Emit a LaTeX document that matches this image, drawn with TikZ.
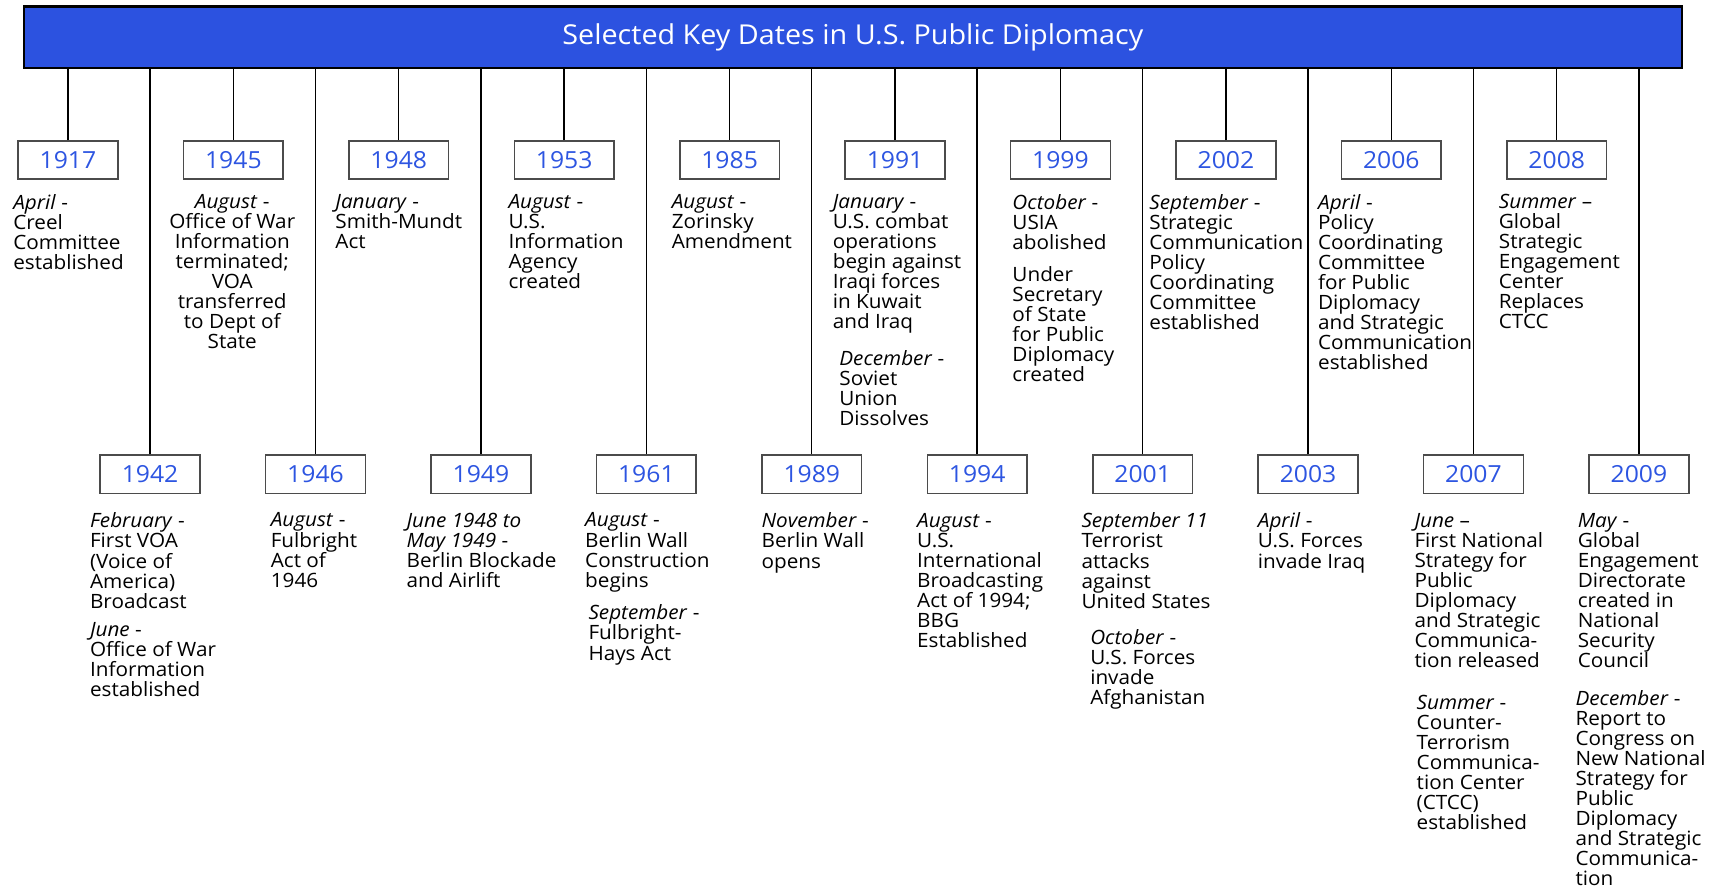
\documentclass[tikz,border=0pt]{standalone}
\usepackage{fontspec}
\setmainfont{Open Sans}[FakeStretch=1.05]
\usetikzlibrary{positioning}

\definecolor{bannerblue}{RGB}{44,82,224}
\definecolor{yearblue}{RGB}{45,85,225}
\definecolor{boxgray}{RGB}{75,75,75}

\newcommand{\mon}[1]{\textit{#1}}
\setlength{\lineskiplimit}{-20pt}

\begin{document}
\begin{tikzpicture}[x=1pt,y=1pt,node distance=151pt,on grid,
	banner/.style={draw=black,line width=2pt,fill=bannerblue,text=white,minimum width=1513pt,minimum height=56pt,font=\fontsize{25}{28}\selectfont},
	yearbox/.style={draw=boxgray,line width=1.4pt,minimum width=91pt,minimum height=35pt,inner sep=0pt,text=yearblue,font=\fontsize{21.5}{24}\selectfont},
	note/.style={anchor=north west,align=left,inner sep=0pt,font=\fontsize{18}{18.3}\selectfont},
	stem/.style={draw=black,line width=1.3pt}]
	\useasboundingbox (0,0) rectangle (1560,-810);

	\node[banner] (banner) at (778.5,-34) {Selected Key Dates in U.S. Public Diplomacy};

	% top row
	\node[yearbox] (y1917) at (62,-146) {1917};
	\node[yearbox] (y1945) [right=of y1917] {1945};
	\node[yearbox] (y1948) [right=of y1945] {1948};
	\node[yearbox] (y1953) [right=of y1948] {1953};
	\node[yearbox] (y1985) [right=of y1953] {1985};
	\node[yearbox] (y1991) [right=of y1985] {1991};
	\node[yearbox] (y1999) [right=of y1991] {1999};
	\node[yearbox] (y2002) [right=of y1999] {2002};
	\node[yearbox] (y2006) [right=of y2002] {2006};
	\node[yearbox] (y2008) [right=of y2006] {2008};

	% bottom row
	\node[yearbox] (y1942) at (137,-433) {1942};
	\node[yearbox] (y1946) [right=of y1942] {1946};
	\node[yearbox] (y1949) [right=of y1946] {1949};
	\node[yearbox] (y1961) [right=of y1949] {1961};
	\node[yearbox] (y1989) [right=of y1961] {1989};
	\node[yearbox] (y1994) [right=of y1989] {1994};
	\node[yearbox] (y2001) [right=of y1994] {2001};
	\node[yearbox] (y2003) [right=of y2001] {2003};
	\node[yearbox] (y2007) [right=of y2003] {2007};
	\node[yearbox] (y2009) [right=of y2007] {2009};

	\path[stem]
	(y1917) edge (y1917 |- banner.south)
	(y1942) edge (y1942 |- banner.south)
	(y1945) edge (y1945 |- banner.south)
	(y1946) edge (y1946 |- banner.south)
	(y1948) edge (y1948 |- banner.south)
	(y1949) edge (y1949 |- banner.south)
	(y1953) edge (y1953 |- banner.south)
	(y1961) edge (y1961 |- banner.south)
	(y1985) edge (y1985 |- banner.south)
	(y1989) edge (y1989 |- banner.south)
	(y1991) edge (y1991 |- banner.south)
	(y1994) edge (y1994 |- banner.south)
	(y1999) edge (y1999 |- banner.south)
	(y2001) edge (y2001 |- banner.south)
	(y2002) edge (y2002 |- banner.south)
	(y2003) edge (y2003 |- banner.south)
	(y2006) edge (y2006 |- banner.south)
	(y2007) edge (y2007 |- banner.south)
	(y2008) edge (y2008 |- banner.south)
	(y2009) edge (y2009 |- banner.south);

	% top row texts
	\node[note] (t1917) at (12,-177) {\mon{April} -\\Creel\\Committee\\established};
	\node[note,anchor=north,align=center] (t1945) at (212,-177) {\mon{August} -\\Office of War\\Information\\terminated;\\VOA\\transferred\\to Dept of\\State};
	\node[note] (t1948) at (306,-177) {\mon{January} -\\Smith-Mundt\\Act};
	\node[note] (t1953) at (464,-177) {\mon{August} -\\U.S.\\Information\\Agency\\created};
	\node[note] (t1985) at (613,-177) {\mon{August} -\\Zorinsky\\Amendment};
	\node[note] (t1991) at (760,-177) {\mon{January} -\\U.S. combat\\operations\\begin against\\Iraqi forces\\in Kuwait\\and Iraq};
	\node[note] (t1991b) at (766,-320) {\mon{December} -\\Soviet\\Union\\Dissolves};
	\node[note] (t1999) at (924,-177) {\mon{October} -\\USIA\\abolished};
	\node[note] (t1999b) at (924,-243) {Under\\Secretary\\of State\\for Public\\Diplomacy\\created};
	\node[note] (t2002) at (1049,-177) {\mon{September} -\\Strategic\\Communication\\Policy\\Coordinating\\Committee\\established};
	\node[note] (t2006) at (1203,-177) {\mon{April} -\\Policy\\Coordinating\\Committee\\for Public\\Diplomacy\\and Strategic\\Communication\\established};
	\node[note] (t2008) at (1368,-177) {\mon{Summer} --\\Global\\Strategic\\Engagement\\Center\\Replaces\\CTCC};

	% bottom row texts
	\node[note] (t1942) at (82,-468) {\mon{February} -\\First VOA\\(Voice of\\America)\\Broadcast};
	\node[note] (t1942b) at (82,-568) {\mon{June} -\\Office of War\\Information\\established};
	\node[note] (t1946) at (247,-468) {\mon{August} -\\Fulbright\\Act of\\1946};
	\node[note] (t1949) at (371,-468) {\mon{June 1948 to}\\\mon{May 1949} -\\Berlin Blockade\\and Airlift};
	\node[note] (t1961) at (534,-468) {\mon{August} -\\Berlin Wall\\Construction\\begins};
	\node[note] (t1961b) at (537,-552) {\mon{September} -\\Fulbright-\\Hays Act};
	\node[note] (t1989) at (695,-468) {\mon{November} -\\Berlin Wall\\opens};
	\node[note] (t1994) at (837,-468) {\mon{August} -\\U.S.\\International\\Broadcasting\\Act of 1994;\\BBG\\Established};
	\node[note] (t2001) at (987,-468) {\mon{September 11}\\Terrorist\\attacks\\against\\United States};
	\node[note] (t2001b) at (995,-574) {\mon{October} -\\U.S. Forces\\invade\\Afghanistan};
	\node[note] (t2003) at (1148,-468) {\mon{April} -\\U.S. Forces\\invade Iraq};
	\node[note] (t2007) at (1291,-468) {\mon{June} --\\First National\\Strategy for\\Public\\Diplomacy\\and Strategic\\Communica-\\tion released};
	\node[note] (t2007b) at (1293,-634) {\mon{Summer} -\\Counter-\\Terrorism\\Communica-\\tion Center\\(CTCC)\\established};
	\node[note] (t2009) at (1440,-468) {\mon{May} -\\Global\\Engagement\\Directorate\\created in\\National\\Security\\Council};
	\node[note] (t2009b) at (1438,-630) {\mon{December} -\\Report to\\Congress on\\New National\\Strategy for\\Public\\Diplomacy\\and Strategic\\Communica-\\tion};

\end{tikzpicture}
\end{document}
